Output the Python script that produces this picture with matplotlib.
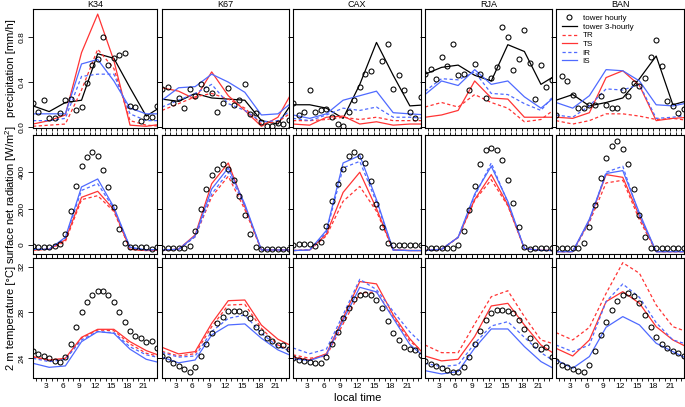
import numpy as np
import matplotlib.pyplot as plt

plt.rcParams['font.family'] = ['Liberation Sans', 'DejaVu Sans']
plt.rcParams['mathtext.fontset'] = 'custom'
plt.rcParams['mathtext.rm'] = 'Liberation Sans'

sites = ['K34', 'K67', 'CAX', 'RJA', 'BAN']
hours = np.arange(0.5, 24, 1.0)          # hourly tower obs
hours_3h = np.arange(0.5, 25, 3.0)       # 3-hourly, last point wraps to first

# precipitation [mm/h]
pr_hourly = {
    'K34': [0.22, 0.14, 0.24, 0.08, 0.08, 0.13, 0.24, 0.25, 0.15, 0.18, 0.39, 0.55, 0.60, 0.80, 0.55, 0.61, 0.64, 0.66, 0.19, 0.18, 0.06, 0.09, 0.09, 0.19],
    'K67': [0.34, 0.36, 0.22, 0.26, 0.17, 0.34, 0.28, 0.38, 0.34, 0.30, 0.14, 0.22, 0.35, 0.20, 0.24, 0.38, 0.12, 0.13, 0.05, 0.01, 0.01, 0.04, 0.03, 0.07],
    'CAX': [0.22, 0.11, 0.14, 0.33, 0.14, 0.15, 0.16, 0.09, 0.03, 0.01, 0.14, 0.24, 0.36, 0.47, 0.50, 1.16, 0.59, 0.74, 0.34, 0.46, 0.33, 0.14, 0.08, 0.27],
    'RJA': [0.47, 0.52, 0.43, 0.62, 0.54, 0.74, 0.46, 0.47, 0.33, 0.56, 0.47, 0.26, 0.44, 0.53, 0.89, 0.80, 0.51, 0.60, 0.86, 0.57, 0.25, 0.55, 0.36, 0.42],
    'BAN': [0.11, 0.45, 0.41, 0.29, 0.17, 0.17, 0.20, 0.20, 0.28, 0.20, 0.17, 0.17, 0.33, 0.28, 0.39, 0.37, 0.44, 0.62, 0.77, 0.54, 0.23, 0.19, 0.13, 0.16],
}
pr_3h = {
    'K34': [0.19, 0.14, 0.22, 0.24, 0.65, 0.61, 0.35, 0.10],
    'K67': [0.25, 0.23, 0.30, 0.26, 0.25, 0.24, 0.06, 0.03],
    'CAX': [0.20, 0.20, 0.17, 0.08, 0.38, 0.75, 0.46, 0.19],
    'RJA': [0.47, 0.53, 0.55, 0.46, 0.41, 0.73, 0.67, 0.38],
    'BAN': [0.24, 0.29, 0.19, 0.22, 0.26, 0.43, 0.63, 0.20],
}
pr_TR = {
    'K34': [0.01, 0.02, 0.03, 0.33, 0.69, 0.52, 0.06, 0.02],
    'K67': [0.15, 0.21, 0.27, 0.30, 0.25, 0.17, 0.03, 0.05],
    'CAX': [0.06, 0.06, 0.07, 0.09, 0.07, 0.09, 0.06, 0.06],
    'RJA': [0.18, 0.22, 0.18, 0.29, 0.22, 0.17, 0.05, 0.07],
    'BAN': [0.06, 0.03, 0.06, 0.12, 0.12, 0.10, 0.07, 0.08],
}
pr_TS = {
    'K34': [0.03, 0.06, 0.11, 0.66, 1.00, 0.59, 0.02, 0.01],
    'K67': [0.35, 0.32, 0.25, 0.49, 0.28, 0.15, 0.01, 0.09],
    'CAX': [0.03, 0.02, 0.09, 0.10, 0.03, 0.05, 0.02, 0.03],
    'RJA': [0.09, 0.11, 0.15, 0.41, 0.26, 0.25, 0.09, 0.09],
    'BAN': [0.09, 0.08, 0.13, 0.44, 0.50, 0.37, 0.06, 0.08],
}
pr_IR = {
    'K34': [0.06, 0.06, 0.08, 0.45, 0.47, 0.47, 0.12, 0.06],
    'K67': [0.18, 0.24, 0.30, 0.38, 0.21, 0.15, 0.05, 0.06],
    'CAX': [0.08, 0.06, 0.11, 0.17, 0.15, 0.18, 0.09, 0.09],
    'RJA': [0.32, 0.43, 0.42, 0.49, 0.30, 0.29, 0.21, 0.15],
    'BAN': [0.11, 0.09, 0.19, 0.34, 0.33, 0.38, 0.08, 0.09],
}
pr_IS = {
    'K34': [0.12, 0.12, 0.12, 0.56, 0.60, 0.41, 0.17, 0.12],
    'K67': [0.24, 0.35, 0.36, 0.47, 0.40, 0.31, 0.11, 0.12],
    'CAX': [0.11, 0.08, 0.12, 0.24, 0.28, 0.32, 0.13, 0.12],
    'RJA': [0.29, 0.41, 0.37, 0.51, 0.38, 0.41, 0.27, 0.17],
    'BAN': [0.22, 0.17, 0.28, 0.51, 0.50, 0.41, 0.20, 0.19],
}

# surface net radiation [W/m2]
rn_hourly = {
    'K34': [-5, -10, -10, -10, -5, 4, 60, 184, 322, 433, 483, 510, 492, 411, 319, 206, 90, 9, -13, -10, -10, -10, -20, -13],
    'K67': [-15, -15, -15, -15, -15, -5, 78, 199, 308, 387, 418, 448, 418, 359, 267, 166, 61, -13, -22, -22, -22, -22, -22, -22],
    'CAX': [0, 3, 3, 3, -5, 15, 105, 240, 335, 418, 488, 510, 492, 451, 350, 227, 98, 9, 0, 0, 0, 0, 0, 0],
    'RJA': [-18, -18, -18, -18, -18, -15, 0, 79, 190, 322, 446, 520, 534, 523, 468, 360, 230, 101, -9, -24, -18, -18, -18, -18],
    'BAN': [-18, -18, -18, -18, -18, 9, 98, 221, 369, 479, 547, 571, 529, 448, 308, 164, 46, -18, -18, -18, -18, -18, -18, -18],
}
rn_TR = {
    'K34': [-28, -24, 18, 249, 271, 184, -24, -31],
    'K67': [-28, -24, 45, 265, 378, 195, -28, -28],
    'CAX': [-31, -28, 50, 240, 322, 185, -28, -31],
    'RJA': [-31, -24, 40, 245, 359, 215, -20, -30],
    'BAN': [-37, -37, 125, 341, 356, 138, -37, -37],
}
rn_TS = {
    'K34': [-28, -24, 28, 262, 295, 194, -24, -31],
    'K67': [-28, -24, 55, 337, 451, 210, -28, -28],
    'CAX': [-31, -28, 60, 289, 400, 200, -28, -31],
    'RJA': [-31, -24, 42, 250, 387, 221, -20, -30],
    'BAN': [-37, -37, 135, 387, 372, 157, -37, -37],
}
rn_IR = {
    'K34': [-24, -24, 37, 300, 337, 200, -15, -28],
    'K67': [-28, -24, 45, 280, 400, 215, -28, -28],
    'CAX': [-31, -28, 70, 424, 460, 235, -28, -31],
    'RJA': [-31, -24, 42, 270, 451, 232, -20, -30],
    'BAN': [-37, -37, 130, 400, 433, 160, -37, -37],
}
rn_IS = {
    'K34': [-24, -24, 42, 319, 363, 208, -13, -28],
    'K67': [-28, -24, 50, 308, 424, 225, -28, -28],
    'CAX': [-31, -28, 80, 451, 492, 250, -28, -31],
    'RJA': [-31, -24, 42, 280, 433, 240, -20, -30],
    'BAN': [-37, -37, 142, 393, 409, 175, -37, -37],
}

# 2 m temperature [degC]
ta_hourly = {
    'K34': [24.67, 24.38, 24.2, 24.0, 23.8, 23.7, 24.15, 25.22, 26.76, 28.07, 28.95, 29.53, 29.88, 29.88, 29.53, 28.89, 28.07, 27.2, 26.41, 25.95, 25.75, 25.45, 25.54, 24.87],
    'K67': [24.2, 23.9, 23.56, 23.33, 23.07, 22.84, 23.2, 24.2, 25.25, 26.24, 27.05, 27.64, 28.13, 28.16, 28.16, 27.98, 27.49, 26.7, 26.33, 25.75, 25.54, 25.16, 25.16, 24.79],
    'CAX': [24.0, 23.85, 23.77, 23.7, 23.62, 23.62, 24.09, 25.25, 26.33, 27.49, 28.36, 29.15, 29.53, 29.6, 29.5, 29.1, 28.36, 27.29, 26.24, 25.6, 25.02, 24.79, 24.73, 24.29],
    'RJA': [23.8, 23.5, 23.33, 23.13, 22.98, 22.84, 22.84, 23.2, 24.09, 25.25, 26.41, 27.35, 27.93, 28.22, 28.22, 28.16, 27.93, 27.35, 26.53, 25.8, 25.16, 24.81, 25.02, 24.15],
    'BAN': [23.8, 23.42, 23.2, 23.07, 22.92, 22.84, 23.42, 24.67, 26.04, 27.2, 28.22, 29.03, 29.53, 29.67, 29.44, 28.8, 27.78, 26.71, 25.83, 25.22, 24.87, 24.67, 24.49, 24.2],
}
ta_TR = {
    'K34': [24.09, 23.8, 23.94, 25.75, 26.47, 26.41, 25.25, 24.44],
    'K67': [24.6, 24.2, 24.4, 26.76, 28.65, 28.71, 26.62, 25.16],
    'CAX': [24.3, 24.0, 24.2, 27.0, 29.7, 29.8, 27.6, 25.5],
    'RJA': [25.16, 24.49, 24.49, 27.0, 29.38, 29.9, 27.64, 25.6],
    'BAN': [26.24, 25.6, 26.7, 29.67, 32.35, 31.42, 28.65, 26.76],
}
ta_TS = {
    'K34': [24.15, 23.85, 24.0, 25.83, 26.53, 26.53, 25.45, 24.67],
    'K67': [24.96, 24.38, 24.58, 27.05, 29.03, 29.09, 26.9, 25.66],
    'CAX': [24.1, 23.85, 24.4, 27.5, 30.7, 30.5, 27.8, 25.7],
    'RJA': [24.2, 23.77, 23.91, 25.9, 28.57, 28.8, 26.91, 25.16],
    'BAN': [24.87, 24.2, 25.6, 28.95, 29.82, 28.8, 26.76, 25.6],
}
ta_IR = {
    'K34': [24.0, 23.7, 23.9, 25.6, 26.33, 26.24, 25.0, 24.3],
    'K67': [24.5, 24.1, 24.2, 26.33, 27.49, 27.78, 26.18, 25.02],
    'CAX': [24.9, 24.4, 24.8, 27.8, 30.9, 30.0, 28.1, 26.3],
    'RJA': [23.56, 23.27, 23.42, 25.3, 26.82, 27.2, 25.83, 24.49],
    'BAN': [25.16, 24.58, 25.16, 28.95, 30.49, 29.32, 27.11, 25.6],
}
ta_IS = {
    'K34': [23.56, 23.21, 23.33, 25.45, 26.33, 26.18, 24.79, 23.91],
    'K67': [24.1, 23.6, 23.85, 26.04, 26.91, 27.0, 25.75, 24.73],
    'CAX': [23.95, 23.8, 24.3, 27.3, 30.2, 29.8, 27.5, 25.2],
    'RJA': [22.92, 22.63, 22.84, 24.9, 26.56, 26.56, 25.02, 23.71],
    'BAN': [23.85, 23.13, 24.15, 26.71, 27.64, 26.91, 25.31, 24.58],
}

rows = [
    dict(obs=pr_hourly, tower=pr_3h, TR=pr_TR, TS=pr_TS, IR=pr_IR, IS=pr_IS,
         ylim=(-0.005, 1.045), yticks=[0.0, 0.4, 0.8], fmt='%.1f',
         label='precipitation [mm/h]'),
    dict(obs=rn_hourly, tower=None, TR=rn_TR, TS=rn_TS, IR=rn_IR, IS=rn_IS,
         ylim=(-50, 605), yticks=[0, 200, 400], fmt='%d',
         label='surface net radiation [W/m$^2$]'),
    dict(obs=ta_hourly, tower=None, TR=ta_TR, TS=ta_TS, IR=ta_IR, IS=ta_IS,
         ylim=(22.32, 32.76), yticks=[24, 28, 32], fmt='%d',
         label='2 m temperature [°C]'),
]

RED = '#ff3434'
BLUE = '#4f6aff'

W, H = 685, 407
lefts = [33, 162, 293, 425, 556]
rights = [157, 289, 421, 552, 684]
tops = [9, 135, 258]
bottoms = [128, 254, 377.5]

fig = plt.figure(figsize=(W / 100, H / 100), dpi=100)


def wrap(v):
    return list(v) + [v[0]]


for r, row in enumerate(rows):
    for c, site in enumerate(sites):
        ax = fig.add_axes([lefts[c] / W, 1 - bottoms[r] / H,
                           (rights[c] - lefts[c]) / W, (bottoms[r] - tops[r]) / H])
        ax.plot(hours, row['obs'][site], 'o', mfc='none', mec='black',
                ms=3.6, mew=0.75, label='tower hourly', zorder=3)
        if row['tower'] is not None:
            ax.plot(hours_3h, wrap(row['tower'][site]), color='black', lw=0.9,
                    label='tower 3-hourly')
        ax.plot(hours_3h, wrap(row['TR'][site]), color=RED, lw=0.9,
                dashes=(2.6, 2.0), label='TR')
        ax.plot(hours_3h, wrap(row['TS'][site]), color=RED, lw=0.9, label='TS')
        ax.plot(hours_3h, wrap(row['IR'][site]), color=BLUE, lw=0.9,
                dashes=(2.6, 2.0), label='IR')
        ax.plot(hours_3h, wrap(row['IS'][site]), color=BLUE, lw=0.9, label='IS')

        ax.set_xlim(0.5, 23.5)
        ax.set_ylim(*row['ylim'])
        hrs = list(range(1, 24))
        if r == 2:
            ax.set_xticks(hrs, [str(h) if h % 3 == 0 else '' for h in hrs])
        else:
            ax.set_xticks(hrs, [''] * len(hrs))
        ax.tick_params(axis='x', direction='out', length=2.5, width=0.6,
                       top=(r > 0), bottom=True, labelsize=6, pad=1.5)
        ax.set_yticks(row['yticks'], [row['fmt'] % v for v in row['yticks']])
        ax.tick_params(axis='y', direction='out', length=3.5, width=0.6,
                       left=True, right=True, labelleft=(c == 0),
                       labelsize=6, pad=1.5)
        for lab in ax.get_yticklabels():
            lab.set_rotation(90)
            lab.set_va('center')
        for sp in ax.spines.values():
            sp.set_linewidth(0.8)
        if r == 0:
            xc = (lefts[c] + rights[c]) / 2
            fig.text(xc / W, 1 - 4.5 / H, site, ha='center', va='center',
                     fontsize=6.5)
        if r == 0 and c == 4:
            ax.legend(loc='upper left', bbox_to_anchor=(0.0, 1.0), frameon=False,
                      fontsize=5.8, handlelength=1.9, labelspacing=0.12,
                      handletextpad=0.7, borderaxespad=0.3)

    ymid = (tops[r] + bottoms[r]) / 2
    fig.text(11 / W, 1 - ymid / H, row['label'], rotation=90, ha='center',
             va='center', fontsize=8)

fig.text(358 / W, 1 - 398 / H, 'local time', ha='center', va='center', fontsize=8)

fig.savefig('out.png', dpi=100)
